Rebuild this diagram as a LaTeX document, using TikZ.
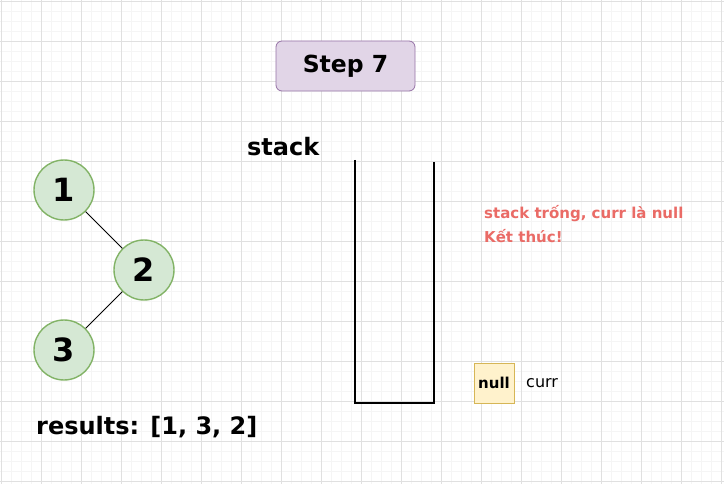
\documentclass[tikz,border=0pt]{standalone}
\usepackage{fontspec}
\setmainfont{DejaVu Sans}
\begin{document}
\begin{tikzpicture}[x=1pt,y=-1pt]
  \definecolor{treefill}{HTML}{D5E8D4}
  \definecolor{treeline}{HTML}{82B366}
  \definecolor{stepfill}{HTML}{E1D5E7}
  \definecolor{stepline}{HTML}{9673A6}
  \definecolor{nullfill}{HTML}{FFF2CC}
  \definecolor{nullline}{HTML}{D6B656}
  \definecolor{msgred}{HTML}{EA6B66}
  \tikzstyle{treenode}=[circle,draw=treeline,fill=treefill,line width=1.4pt,minimum size=60pt,inner sep=0pt,font=\bfseries\fontsize{32}{36}\selectfont]
  \tikzstyle{bigbold}=[font=\bfseries\fontsize{24}{28}\selectfont]
  \useasboundingbox (0,0) rectangle (724,484);
  \fill[white] (0,0) rectangle (724,484);
  % grid
  \foreach \i in {0,...,72}
    \draw[black!4,line width=0.8pt] (1.7+10*\i,0) -- (1.7+10*\i,484);
  \foreach \j in {0,...,48}
    \draw[black!4,line width=0.8pt] (0,1.7+10*\j) -- (724,1.7+10*\j);
  \foreach \i in {0,...,18}
    \draw[black!12,line width=0.8pt] (1.7+40*\i,0) -- (1.7+40*\i,484);
  \foreach \j in {0,...,12}
    \draw[black!12,line width=0.8pt] (0,1.7+40*\j) -- (724,1.7+40*\j);

  \node[draw=stepline,fill=stepfill,rounded corners=6pt,line width=0.8pt,minimum width=139pt,minimum height=50pt,font=\bfseries\fontsize{23.5}{28}\selectfont] (step) at (345.5,66) {Step 7};

  \node[treenode] (T_1) at (64,190)  {1};
  \node[treenode] (T_2) at (144,270) {2};
  \node[treenode] (T_3) at (64,350)  {3};
  \draw[line width=0.9pt] (T_1) -- (T_2) -- (T_3);

  \node[bigbold,anchor=base west,inner sep=0pt] (stacklbl) at (247,156) {stack};
  \coordinate (S_tl) at (355,160);
  \coordinate (S_bl) at (355,402.5);
  \coordinate (S_br) at (434,402.5);
  \coordinate (S_tr) at (434,162);
  \draw[line width=2pt] (S_tl) -- (S_bl) -- (S_br) -- (S_tr);

  \node[anchor=west,align=left,text=msgred,inner sep=0pt,font=\bfseries\fontsize{15}{23.5}\selectfont] (msg) at (484,224)
        {stack trống, curr là null\\Kết thúc!};

  \node[draw=nullline,fill=nullfill,line width=0.8pt,minimum width=40pt,minimum height=40pt,inner sep=0pt,font=\bfseries\fontsize{15}{18}\selectfont] (null) at (494,383.3) {null};
  \node[anchor=west,inner sep=0pt,font=\fontsize{16}{18}\selectfont] (curr) at (526,383.3) {curr};

  \node[bigbold,anchor=base west,inner sep=0pt] (results) at (36,434) {results: [1, 3, 2]};
\end{tikzpicture}
\end{document}
